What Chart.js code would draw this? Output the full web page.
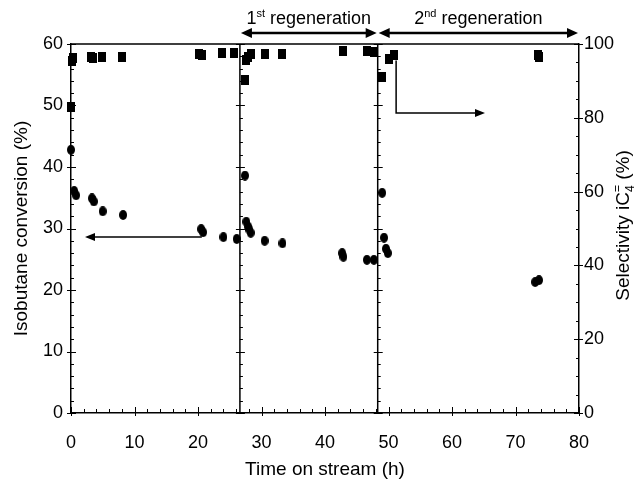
<!DOCTYPE html>
<html>
<head>
<meta charset="utf-8">
<script src="https://cdn.jsdelivr.net/npm/chart.js@4.4.1/dist/chart.umd.min.js"></script>
<style>
  html, body { margin: 0; background: #fff; }
</style>
</head>
<body>
<canvas id="chart" width="634" height="481"></canvas>
<script>
// isobutane conversion (%), left axis
const convTime = [0, 0.5, 0.8, 3.3, 3.6, 5.0, 8.2, 20.5, 20.8, 24.0, 26.1,
  27.4, 27.6, 27.9, 28.1, 28.3, 30.5, 33.3, 42.7, 42.9, 46.6, 47.7,
  49.0, 49.3, 49.6, 49.9, 73.1, 73.7];
const convValue = [42.8, 36.1, 35.4, 34.9, 34.4, 32.8, 32.2, 29.9, 29.4, 28.6, 28.3,
  38.6, 31.1, 30.3, 29.8, 29.3, 28.0, 27.6, 26.0, 25.4, 24.9, 24.9,
  35.8, 28.5, 26.7, 26.0, 21.3, 21.6];

// selectivity iC4= (%), right axis
const selTime = [0, 0.1, 0.3, 3.1, 3.5, 4.9, 8.0, 20.2, 20.6, 23.8, 25.7,
  27.4, 27.6, 27.9, 28.3, 30.6, 33.2, 42.8, 46.6, 47.7,
  49.0, 50.1, 50.9, 73.5, 73.7];
const selValue = [82.9, 95.3, 96.3, 96.5, 96.2, 96.5, 96.5, 97.3, 97.0, 97.6, 97.6,
  90.2, 95.7, 96.5, 97.3, 97.3, 97.3, 98.1, 98.1, 97.8,
  91.0, 95.9, 97.0, 97.0, 96.5];

// regeneration starts (h)
const regenStart = [26.6, 48.3];
const regenLabels = [["1", "st", " regeneration"], ["2", "nd", " regeneration"]];

const FONT = '"Liberation Sans", Arial, sans-serif';
Chart.defaults.font.family = FONT;
Chart.defaults.color = "#000";

function markerImage(kind, w, h) {
  const c = document.createElement("canvas");
  c.width = w;
  c.height = h;
  const g = c.getContext("2d");
  g.fillStyle = "#000";
  if (kind === "rect") {
    g.fillRect(0, 0, w, h);
  } else {
    g.beginPath();
    g.ellipse(w / 2, h / 2, w / 2, h / 2, 0, 0, Math.PI * 2);
    g.fill();
  }
  return c;
}

function arrowHead(ctx, x, y, dx, dy, len, half) {
  const nx = -dy, ny = dx;
  ctx.beginPath();
  ctx.moveTo(x, y);
  ctx.lineTo(x - dx * len + nx * half, y - dy * len + ny * half);
  ctx.lineTo(x - dx * len - nx * half, y - dy * len - ny * half);
  ctx.closePath();
  ctx.fill();
}

const decorations = {
  id: "decorations",
  beforeDatasetsDraw(chart) {
    const { ctx, chartArea: a, scales: { x, y, y2 } } = chart;
    ctx.save();
    ctx.strokeStyle = "#000";
    ctx.lineWidth = 1.5;
    ctx.beginPath();
    ctx.moveTo(a.left, a.top);
    ctx.lineTo(a.right, a.top);
    regenStart.forEach((t) => {
      const px = x.getPixelForValue(t);
      ctx.moveTo(px, a.top);
      ctx.lineTo(px, a.bottom);
    });
    ctx.stroke();

    ctx.lineWidth = 1;
    ctx.beginPath();
    const verticals = [a.left, ...regenStart.map((t) => x.getPixelForValue(t))];
    for (let v = 0; v <= 60; v += 2) {
      const py = Math.round(y.getPixelForValue(v)) + 0.5;
      const major = v % 10 === 0;
      verticals.forEach((px) => {
        ctx.moveTo(px - (major ? 4 : 0), py);
        ctx.lineTo(px + (major ? 5 : 3), py);
      });
    }
    for (let v = 0; v <= 100; v += 5) {
      const py = Math.round(y2.getPixelForValue(v)) + 0.5;
      const major = v % 20 === 0;
      ctx.moveTo(a.right + (major ? 4 : 0), py);
      ctx.lineTo(a.right - (major ? 5 : 3), py);
    }
    for (let v = 0; v <= 80; v += 2) {
      const px = Math.round(x.getPixelForValue(v)) + 0.5;
      const major = v % 10 === 0;
      ctx.moveTo(px, a.bottom + (major ? 3 : 0));
      ctx.lineTo(px, a.bottom - (major ? 6 : 4));
    }
    ctx.stroke();
    ctx.restore();
  },
  afterDraw(chart) {
    const { ctx, chartArea: a, scales: { x, y, y2 } } = chart;
    ctx.save();
    ctx.strokeStyle = "#000";
    ctx.fillStyle = "#000";

    // regeneration spans
    const bounds = [...regenStart, 80];
    const ay = a.top - 11;
    ctx.lineWidth = 2.5;
    for (let i = 0; i < regenStart.length; i++) {
      const x1 = x.getPixelForValue(bounds[i]) + 1;
      const x2 = x.getPixelForValue(bounds[i + 1]) - 1;
      ctx.beginPath();
      ctx.moveTo(x1 + 8, ay);
      ctx.lineTo(x2 - 8, ay);
      ctx.stroke();
      arrowHead(ctx, x1, ay, -1, 0, 11, 5);
      arrowHead(ctx, x2, ay, 1, 0, 11, 5);

      const [n, sup, rest] = regenLabels[i];
      const big = "18px " + FONT, small = "11px " + FONT;
      ctx.font = big;
      const wn = ctx.measureText(n).width, wr = ctx.measureText(rest).width;
      ctx.font = small;
      const ws = ctx.measureText(sup).width;
      let tx = (x1 + x2) / 2 - (wn + ws + wr) / 2;
      const ty = a.top - 20;
      ctx.textBaseline = "alphabetic";
      ctx.textAlign = "left";
      ctx.font = big;
      ctx.fillText(n, tx, ty);
      tx += wn;
      ctx.font = small;
      ctx.fillText(sup, tx, ty - 7);
      tx += ws;
      ctx.font = big;
      ctx.fillText(rest, tx, ty);
    }

    // arrows pointing to the axis each series belongs to
    ctx.lineWidth = 1.5;
    const ly = y.getPixelForValue(28.6);
    const lx1 = x.getPixelForValue(20.6), lx2 = x.getPixelForValue(2.2);
    ctx.beginPath();
    ctx.moveTo(lx1, ly);
    ctx.lineTo(lx2 + 6, ly);
    ctx.stroke();
    arrowHead(ctx, lx2, ly, -1, 0, 10, 4);

    const rx = x.getPixelForValue(51.2);
    const ry1 = y2.getPixelForValue(95.5), ry2 = y2.getPixelForValue(81.3);
    const rx2 = x.getPixelForValue(65.2);
    ctx.beginPath();
    ctx.moveTo(rx, ry1);
    ctx.lineTo(rx, ry2);
    ctx.lineTo(rx2 - 6, ry2);
    ctx.stroke();
    arrowHead(ctx, rx2, ry2, 1, 0, 10, 4);

    // axis titles
    const titleFont = "19px " + FONT;
    ctx.font = titleFont;
    ctx.textAlign = "center";
    ctx.textBaseline = "middle";
    ctx.fillText("Time on stream (h)", (a.left + a.right) / 2, 470);

    ctx.save();
    ctx.translate(22, (a.top + a.bottom) / 2);
    ctx.rotate(-Math.PI / 2);
    ctx.fillText("Isobutane conversion (%)", 0, 0);
    ctx.restore();

    const parts = [["Selectivity iC", 0, titleFont], ["4", 5, "12px " + FONT],
      ["=", -8, "12px " + FONT], [" (%)", 0, titleFont]];
    parts.forEach((p) => { ctx.font = p[2]; p.push(ctx.measureText(p[0]).width); });
    const total = parts[0][3] + Math.max(parts[1][3], parts[2][3]) + parts[3][3];
    ctx.save();
    ctx.translate(622, (a.top + a.bottom) / 2 - 3);
    ctx.rotate(-Math.PI / 2);
    ctx.textAlign = "left";
    ctx.textBaseline = "alphabetic";
    let px = -total / 2;
    const base = 7;
    ctx.font = parts[0][2];
    ctx.fillText(parts[0][0], px, base);
    px += parts[0][3];
    ctx.font = parts[1][2];
    ctx.fillText(parts[1][0], px, base + parts[1][1]);
    ctx.fillText(parts[2][0], px, base + parts[2][1]);
    px += Math.max(parts[1][3], parts[2][3]);
    ctx.font = parts[3][2];
    ctx.fillText(parts[3][0], px, base);
    ctx.restore();

    ctx.restore();
  },
};

const tickFont = { size: 18, family: FONT };

new Chart(document.getElementById("chart"), {
  type: "scatter",
  data: {
    datasets: [
      {
        label: "Conversion",
        data: convTime.map((t, i) => ({ x: t, y: convValue[i] })),
        yAxisID: "y",
        pointStyle: markerImage("ellipse", 8, 10),
        backgroundColor: "#000",
        borderColor: "#000",
        clip: false,
      },
      {
        label: "Selectivity",
        data: selTime.map((t, i) => ({ x: t, y: selValue[i] })),
        yAxisID: "y2",
        pointStyle: markerImage("rect", 8, 10),
        backgroundColor: "#000",
        borderColor: "#000",
        clip: false,
      },
    ],
  },
  options: {
    responsive: false,
    animation: false,
    devicePixelRatio: 1,
    layout: { padding: { top: 44, left: 0, right: 0, bottom: 0 } },
    plugins: { legend: { display: false }, tooltip: { enabled: false } },
    scales: {
      x: {
        type: "linear",
        min: 0,
        max: 80,
        ticks: { stepSize: 10, padding: 19, font: tickFont, color: "#000" },
        grid: { display: false, drawTicks: false },
        border: { color: "#000", width: 1.5 },
        afterFit: (s) => { s.height = 68; },
      },
      y: {
        position: "left",
        min: 0,
        max: 60,
        ticks: { stepSize: 10, padding: 8, font: tickFont, color: "#000" },
        grid: { display: false, drawTicks: false },
        border: { color: "#000", width: 1.5 },
        afterFit: (s) => { s.width = 71; },
      },
      y2: {
        position: "right",
        min: 0,
        max: 100,
        ticks: { stepSize: 20, padding: 5, font: tickFont, color: "#000" },
        grid: { display: false, drawTicks: false },
        border: { color: "#000", width: 1.5 },
        afterFit: (s) => { s.width = 55; },
      },
    },
  },
  plugins: [decorations],
});
</script>
</body>
</html>
